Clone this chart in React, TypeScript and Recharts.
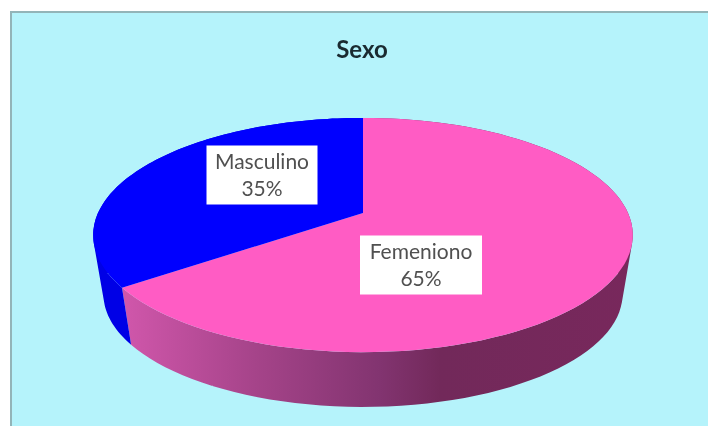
import React from 'react';
import { Cell, Pie, PieChart } from 'recharts';

const categories = ['Femeniono', 'Masculino'];
const shares = [65, 35];
const percentLabels = ['65%', '35%'];

const topColors = ['#FF5CC4', '#0000FF'];
const wallColors = ['url(#pinkWall)', '#0000E6'];
const labelCenters = [
  { dx: 58, dy: 52 },
  { dx: -101, dy: -38 },
];
const labelSizes = [
  { w: 122, h: 59 },
  { w: 111, h: 59 },
];

const tableData = categories.map((name, i) => ({ name, value: shares[i], wall: wallColors[i] }));

const W = 708;
const H = 426;
const CX = 363;
const CY = 213;
const RADIUS = 265;

// the tilt of the pie: a circle seen in perspective, back edge further away
const TILT_Y = 113 / 265;
const PERSPECTIVE = 0.188;
const WALL_DROP = 60;
const WALL_SCALE = 0.962;

const project = (cx: number, cy: number, r: number, angle: number) => {
  const rad = ((90 - angle) * Math.PI) / 180;
  const d = 1 + PERSPECTIVE * Math.cos(rad);
  return [cx + (r * Math.sin(rad)) / d, cy - (r * TILT_Y * Math.cos(rad)) / d];
};

const arc = (cx: number, cy: number, r: number, from: number, to: number) => {
  const pts: number[][] = [];
  const steps = 96;
  for (let i = 0; i <= steps; i++) {
    pts.push(project(cx, cy, r, from + ((to - from) * i) / steps));
  }
  return pts;
};

const toPath = (pts: number[][]) =>
  'M' + pts.map((p) => `${p[0].toFixed(1)},${p[1].toFixed(1)}`).join('L') + 'Z';

// the wall is a strip of small quads, so its outline runs straight from rim to rim
const wallPath = (upper: number[][], lower: number[][]) =>
  upper
    .slice(1)
    .map((p, i) => {
      const quad = [upper[i], p, lower[i + 1], lower[i]];
      const area = quad.reduce((sum, a, j) => {
        const b = quad[(j + 1) % 4];
        return sum + a[0] * b[1] - b[0] * a[1];
      }, 0);
      return toPath(area < 0 ? quad.reverse() : quad);
    })
    .join('');

const Slice3D = (props: any) => {
  const { cx, cy, outerRadius, startAngle, endAngle, fill, payload } = props;
  const upper = arc(cx, cy, outerRadius, startAngle, endAngle);
  const lower = arc(cx, cy + WALL_DROP, outerRadius * WALL_SCALE, startAngle, endAngle);
  return (
    <g>
      <path d={wallPath(upper, lower)} fill={payload.wall} stroke="none" />
      <path d={toPath([[cx, cy], ...upper])} fill={fill} stroke="none" />
    </g>
  );
};

const SliceLabel = (props: any) => {
  const { cx, cy, index } = props;
  const c = labelCenters[index];
  const s = labelSizes[index];
  const x = cx + c.dx;
  const y = cy + c.dy;
  return (
    <g>
      <rect x={x - s.w / 2} y={y - s.h / 2} width={s.w} height={s.h} fill="#FFFFFF" />
      <text x={x} y={y - 6} textAnchor="middle" fontFamily="Lato" fontSize={21} fill="#505050">
        {categories[index]}
      </text>
      <text x={x} y={y + 21} textAnchor="middle" fontFamily="Lato" fontSize={21} fill="#505050">
        {percentLabels[index]}
      </text>
    </g>
  );
};

export default function App() {
  return (
    <div
      style={{
        position: 'absolute',
        left: 0,
        top: 0,
        width: W,
        height: H,
        background: '#fff',
        overflow: 'hidden',
      }}
    >
      <div style={{ position: 'absolute', left: 0, top: 0, width: W, height: H, filter: 'blur(0.6px)' }}>
        <div
          style={{
            position: 'absolute',
            left: 10,
            top: 11,
            width: W,
            height: H,
            background: '#B5F3FB',
            borderLeft: '2px solid #93B4B8',
            borderTop: '2px solid #93B4B8',
            boxSizing: 'border-box',
          }}
        />
        <div style={{ position: 'absolute', left: 0, top: 0 }}>
          <PieChart width={W} height={H} margin={{ top: 0, right: 0, bottom: 0, left: 0 }}>
            <defs>
              <linearGradient id="pinkWall" gradientUnits="userSpaceOnUse" x1="127" y1="0" x2="633" y2="0">
                <stop offset="0%" stopColor="#CF56AA" />
                <stop offset="25%" stopColor="#A6448A" />
                <stop offset="50%" stopColor="#823470" />
                <stop offset="62%" stopColor="#72295A" />
                <stop offset="100%" stopColor="#78285C" />
              </linearGradient>
            </defs>
            <text x={362} y={58} textAnchor="middle" fontFamily="Lato" fontWeight={700} fontSize={24} fill="#1A2A30">
              Sexo
            </text>
            <Pie
              data={tableData}
              dataKey="value"
              nameKey="name"
              cx={CX}
              cy={CY}
              outerRadius={RADIUS}
              startAngle={90}
              endAngle={-270}
              stroke="none"
              shape={Slice3D}
              label={SliceLabel}
              labelLine={false}
              isAnimationActive={false}
            >
              {categories.map((name, i) => (
                <Cell key={name} fill={topColors[i]} />
              ))}
            </Pie>
          </PieChart>
        </div>
      </div>
    </div>
  );
}
